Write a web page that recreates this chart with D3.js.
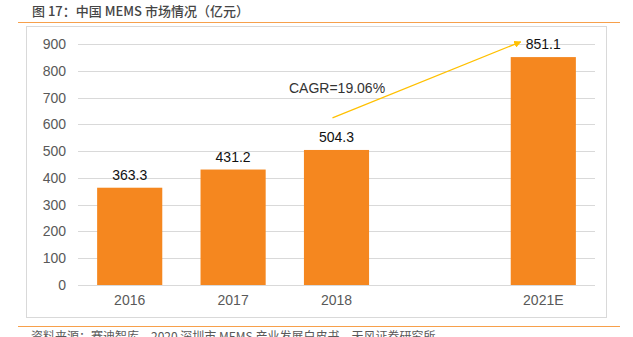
<!DOCTYPE html>
<html>
<head>
<meta charset="utf-8">
<script src="https://cdn.jsdelivr.net/npm/d3@7"></script>
<style>
  html, body { margin: 0; padding: 0; background: #fff; }
  svg { display: block; font-family: "Liberation Sans", Arial, "Noto Sans CJK SC", sans-serif; }
</style>
</head>
<body>
<svg id="chart" width="633" height="337"></svg>
<script>
// Market size of MEMS in China (100 million yuan); one empty slot before the forecast year
const categories = ["2016", "2017", "2018", "", "2021E"];
const values = [363.3, 431.2, 504.3, null, 851.1];
const yTicks = [0, 100, 200, 300, 400, 500, 600, 700, 800, 900];
const titleText = "图 17：中国 MEMS 市场情况（亿元）";
const sourceText = "资料来源：赛迪智库，2020 深圳市 MEMS 产业发展白皮书，天风证券研究所";
const cagrText = "CAGR=19.06%";
// Growth arrow endpoints: [category, value] pairs
const arrowFrom = ["2018", 624];
const arrowTo = ["2021E", 908];

const svg = d3.select("#chart");
const orange = "#F5871F";
const accent = "#F7A04B";

// header
svg.append("text")
  .attr("x", 32).attr("y", 16)
  .attr("font-size", 13).attr("font-weight", 500)
  .attr("fill", "#454545")
  .style("font-family", "'Noto Sans CJK SC', 'Liberation Sans', sans-serif")
  .text(titleText);
svg.append("line").attr("x1", 18).attr("x2", 620).attr("y1", 22.5).attr("y2", 22.5)
  .attr("stroke", accent).attr("stroke-width", 1.2);

// frame
svg.append("rect").attr("x", 26.5).attr("y", 26.5).attr("width", 580).attr("height", 291)
  .attr("fill", "none").attr("stroke", "#d9d9d9");

// footer
svg.append("line").attr("x1", 18).attr("x2", 620).attr("y1", 326.5).attr("y2", 326.5)
  .attr("stroke", accent).attr("stroke-width", 1.2);
svg.append("text")
  .attr("x", 31).attr("y", 341)
  .attr("font-size", 12).attr("fill", "#595959")
  .style("font-family", "'Noto Sans CJK SC', 'Liberation Sans', sans-serif")
  .text(sourceText);

const x = d3.scaleBand().domain(categories).range([78, 595]).paddingInner(0.37).paddingOuter(0.185);
const y = d3.scaleLinear().domain([0, 900]).range([285, 44]);

// gridlines
svg.append("g").selectAll("line").data(yTicks).join("line")
  .attr("x1", 78).attr("x2", 595)
  .attr("y1", d => Math.round(y(d)) + 0.5).attr("y2", d => Math.round(y(d)) + 0.5)
  .attr("stroke", "#d9d9d9").attr("stroke-width", 1);

// y axis labels
const yAxis = svg.append("g").attr("transform", "translate(78,0)")
  .call(d3.axisLeft(y).tickValues(yTicks).tickSize(0).tickPadding(12));
yAxis.select(".domain").remove();
yAxis.selectAll("text").attr("font-size", 14).attr("fill", "#595959")
  .style("font-family", "'Liberation Sans', Arial, sans-serif");

// x axis labels
const xAxis = svg.append("g").attr("transform", "translate(0,285)")
  .call(d3.axisBottom(x).tickSize(0).tickPadding(10));
xAxis.select(".domain").remove();
xAxis.selectAll("text").attr("font-size", 14).attr("fill", "#595959")
  .style("font-family", "'Liberation Sans', Arial, sans-serif");

const data = categories.map((c, i) => ({ c, v: values[i] })).filter(d => d.v != null);

// bars
svg.append("g").selectAll("rect").data(data).join("rect")
  .attr("x", d => x(d.c)).attr("width", x.bandwidth())
  .attr("y", d => y(d.v)).attr("height", d => y(0) - y(d.v))
  .attr("fill", orange);

// value labels
svg.append("g").selectAll("text").data(data).join("text")
  .attr("x", d => x(d.c) + x.bandwidth() / 2)
  .attr("y", d => y(d.v) - 8)
  .attr("text-anchor", "middle")
  .attr("font-size", 14).attr("fill", "#111")
  .text(d => d.v.toFixed(1));

// growth arrow
const defs = svg.append("defs");
defs.append("marker").attr("id", "arrowhead")
  .attr("viewBox", "0 0 10 10").attr("refX", 9).attr("refY", 5)
  .attr("markerWidth", 6).attr("markerHeight", 6).attr("orient", "auto")
  .attr("markerUnits", "strokeWidth")
  .append("path").attr("d", "M0,0 L10,5 L0,10 Z").attr("fill", "#FFC000");

const ax1 = x(arrowFrom[0]) + x.bandwidth() / 2 - 4;
const ay1 = y(arrowFrom[1]);
const ax2 = x(arrowTo[0]) + 10;
const ay2 = y(arrowTo[1]);
svg.append("line")
  .attr("x1", ax1).attr("y1", ay1).attr("x2", ax2).attr("y2", ay2)
  .attr("stroke", "#FFC000").attr("stroke-width", 1.2)
  .attr("marker-end", "url(#arrowhead)");

svg.append("text")
  .attr("x", 289).attr("y", 93)
  .attr("font-size", 14).attr("fill", "#333")
  .text(cagrText);
</script>
</body>
</html>
